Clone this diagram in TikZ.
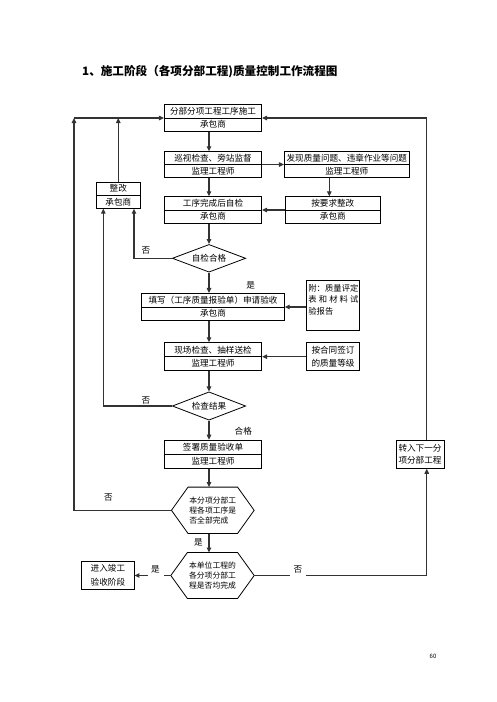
\documentclass[tikz,border=0pt]{standalone}
\usepackage{fontspec}
\setmainfont{Noto Sans CJK SC}
\usetikzlibrary{shapes.geometric,arrows.meta,calc}
\tikzset{
  bx/.style={draw=black, line width=0.8pt, inner sep=0pt},
  txt/.style={font=\fontsize{8.6}{10}\selectfont, inner sep=0pt},
  lab/.style={font=\fontsize{8.6}{10}\selectfont, inner sep=3.5pt},
  hx/.style={font=\fontsize{7.8}{10}\selectfont, inner sep=0pt, align=left},
  arr/.style={line width=1.1pt, draw=black!80, -{Triangle[length=5pt,width=4.5pt]}},
  ln/.style={line width=1.1pt, draw=black!80},
  dia/.style={diamond, draw=black, line width=0.8pt, aspect=2.6, inner sep=0pt, font=\fontsize{8.6}{10}\selectfont},
}
\newcommand{\tbox}[7]{%
  \node[bx, minimum width=#4pt, minimum height=#5pt] (#1) at (#2,#3) {};
  \draw[bx] (#1.west) -- (#1.east);
  \node[txt] (#1a) at ($(#1.center)+(0,-6.6)$) {#6};
  \node[txt] (#1b) at ($(#1.center)+(0,6.6)$) {#7};
}
\newcommand{\hexdraw}[1]{%
  \draw[black, line width=0.8pt] (#1.west) -- ([xshift=16.6pt]#1.north west) -- ([xshift=-16.6pt]#1.north east) -- (#1.east) -- ([xshift=-16.6pt]#1.south east) -- ([xshift=16.6pt]#1.south west) -- cycle;
}
\begin{document}
\begin{tikzpicture}[x=1pt,y=-1pt]
\fill[white] (0,0) rectangle (496,702);
\useasboundingbox (0,0) rectangle (496,702);

\node[anchor=west, inner sep=0pt, font=\fontsize{11.6}{14}\selectfont\bfseries] (title) at (82,72) {1、施工阶段（各项分部工程)质量控制工作流程图};

\coordinate (cx) at (209,0);
\coordinate (cr) at (329.3,0);
\coordinate (R) at (426.7,0);
\coordinate (L) at (74,118);

\tbox{b1}{213}{118}{97.4}{27.4}{分部分项工程工序施工}{承包商}
\tbox{b2}{213}{164.5}{97.4}{25.6}{巡视检查、旁站监督}{监理工程师}
\tbox{b3}{346.8}{164.5}{125}{25.6}{发现质量问题、违章作业等问题}{监理工程师}
\tbox{b4}{213}{210}{97.4}{26.6}{工序完成后自检}{承包商}
\tbox{b5}{332.8}{210}{95.7}{26.6}{按要求整改}{承包商}
\tbox{b6}{118.3}{195.3}{43.3}{26}{整改}{承包商}
\tbox{b7}{213}{307}{142.6}{27.4}{填写（工序质量报验单）申请验收}{承包商}
\tbox{b9}{213}{356.7}{97.4}{28}{现场检查、抽样送检}{监理工程师}
\tbox{b11}{213}{454.2}{97.4}{28.3}{签署质量验收单}{监理工程师}

\node[dia, minimum width=73.4pt, minimum height=27.7pt] (d1) at (209,258.3) {自检合格};
\node[dia, minimum width=73.4pt, minimum height=28.3pt] (d2) at (209,406) {检查结果};

\node[bx, minimum width=52.6pt, minimum height=49.6pt] (b8) at (333,305.5) {};
\node[txt, anchor=west, font=\fontsize{8.3}{10}\selectfont] (b8a) at (308.2,288) {\makebox[50pt][s]{附\hfil ：\hfil 质\hfil 量\hfil 评\hfil 定}};
\node[txt, anchor=west, font=\fontsize{8.3}{10}\selectfont] (b8b) at (308.2,299.5) {\makebox[50pt][s]{表\hfil 和\hfil 材\hfil 料\hfil 试}};
\node[txt, anchor=west, font=\fontsize{8.3}{10}\selectfont] (b8c) at (308.2,311) {验报告};

\node[bx, minimum width=52.6pt, minimum height=28pt] (b10) at (333,356.7) {};
\node[txt] (b10a) at (333,350) {按合同签订};
\node[txt] (b10b) at (333,363.3) {的质量等级};

\node[bx, minimum width=48pt, minimum height=28.3pt] (b12) at (420,454.2) {};
\node[txt] (b12a) at (420,448) {转入下一分};
\node[txt] (b12b) at (420,460.5) {项分部工程};

\node[bx, minimum width=52.3pt, minimum height=28pt] (b13) at (107.9,575) {};
\node[txt] (b13a) at (107.9,568.5) {进入竣工};
\node[txt] (b13b) at (107.9,582) {验收阶段};

\node[hx, minimum width=82.3pt, minimum height=46pt] (h1) at (212.8,510.3) {本分项分部工\\程各项工序是\\否全部完成};
\hexdraw{h1}
\node[hx, minimum width=83pt, minimum height=45.6pt] (h2) at (212.5,575.5) {本单位工程的\\各分项分部工\\程是否均完成};
\hexdraw{h2}

\node[lab] (lno1) at (146,250) {否};
\node[lab] (lyes1) at (250.7,285.7) {是};
\node[lab] (lno2) at (146,400) {否};
\node[lab] (lok) at (243.3,431.7) {合格};
\node[lab] (lno3) at (108.3,497.3) {否};
\node[lab] (lyes3) at (198.3,542.7) {是};
\node[lab] (lyes2) at (155.5,569.3) {是};
\node[lab] (lno4) at (298,569.3) {否};

\node[inner sep=0pt, font=\fontsize{6}{7}\selectfont] (pg) at (433,656) {60};

% connectors
\draw[arr] (b1.south -| cx) -- (b2.north -| cx);
\draw[arr] (b2.east) -- (b3.west);
\draw[arr] (b2.south -| cx) -- (b4.north -| cx);
\draw[arr] (b3.south -| cr) -- (b5.north -| cr);
\draw[arr] (b5.west) -- (b4.east);
\draw[arr] (b4.south -| cx) -- (d1.north);
\draw[arr] (d1.west) -| ([xshift=15.7pt]b6.south);
\draw[arr] (d1.south) -- (b7.north -| cx);
\draw[arr] (b8.west |- b7) -- (b7.east);
\draw[arr] (b7.south -| cx) -- (b9.north -| cx);
\draw[arr] (b10.west |- b9) -- (b9.east);
\draw[arr] (b9.south -| cx) -- (d2.north);
\draw[arr] (d2.west) -| ([xshift=-15pt]b6.south);
\draw[arr] (d2.south) -- (b11.north -| cx);
\draw[arr] (b11.south -| cx) -- (h1.north -| cx);
\draw[arr] (h1.south -| cx) -- (h2.north -| cx);
\draw[arr] (h1.west) -| (L);
\draw[arr] (L) -- (b1.west);
\draw[arr] (b6.north) -- (b6.north |- L);
\draw[ln] (h2.west) -- (h2.west -| lyes2.east);
\draw[arr] (h2.west -| lyes2.west) -- (b13.east |- h2);
\draw[ln] (h2.east) -- (h2.east -| lno4.west);
\draw[arr] (h2.east -| lno4.east) -| (b12.south -| R);
\draw[arr] (b12.north -| R) |- (b1.east);
\end{tikzpicture}
\end{document}
